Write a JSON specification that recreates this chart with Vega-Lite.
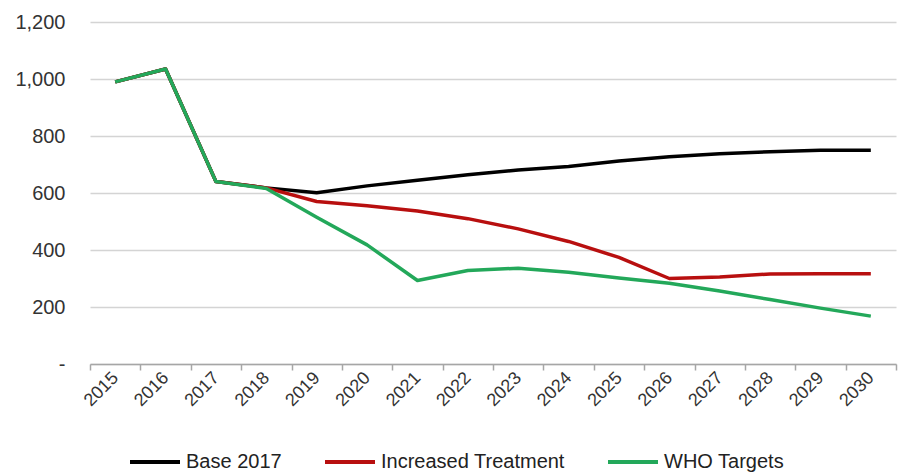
{
  "$schema": "https://vega.github.io/schema/vega-lite/v6.json",
  "width": 806,
  "height": 342,
  "autosize": {"type": "none"},
  "padding": {"left": 90, "top": 22, "right": 10, "bottom": 108},
  "background": "white",
  "config": {
    "view": {"stroke": null},
    "font": "Liberation Sans"
  },
  "data": {
    "values": [
      {"year": "2015", "series": "Base 2017", "value": 990},
      {"year": "2016", "series": "Base 2017", "value": 1035},
      {"year": "2017", "series": "Base 2017", "value": 640},
      {"year": "2018", "series": "Base 2017", "value": 618},
      {"year": "2019", "series": "Base 2017", "value": 601},
      {"year": "2020", "series": "Base 2017", "value": 625},
      {"year": "2021", "series": "Base 2017", "value": 645},
      {"year": "2022", "series": "Base 2017", "value": 664},
      {"year": "2023", "series": "Base 2017", "value": 681},
      {"year": "2024", "series": "Base 2017", "value": 693},
      {"year": "2025", "series": "Base 2017", "value": 712},
      {"year": "2026", "series": "Base 2017", "value": 727},
      {"year": "2027", "series": "Base 2017", "value": 738},
      {"year": "2028", "series": "Base 2017", "value": 745},
      {"year": "2029", "series": "Base 2017", "value": 750},
      {"year": "2030", "series": "Base 2017", "value": 750},
      {"year": "2015", "series": "Increased Treatment", "value": 990},
      {"year": "2016", "series": "Increased Treatment", "value": 1035},
      {"year": "2017", "series": "Increased Treatment", "value": 640},
      {"year": "2018", "series": "Increased Treatment", "value": 618},
      {"year": "2019", "series": "Increased Treatment", "value": 570},
      {"year": "2020", "series": "Increased Treatment", "value": 555},
      {"year": "2021", "series": "Increased Treatment", "value": 537},
      {"year": "2022", "series": "Increased Treatment", "value": 510},
      {"year": "2023", "series": "Increased Treatment", "value": 474},
      {"year": "2024", "series": "Increased Treatment", "value": 430},
      {"year": "2025", "series": "Increased Treatment", "value": 374},
      {"year": "2026", "series": "Increased Treatment", "value": 300},
      {"year": "2027", "series": "Increased Treatment", "value": 305},
      {"year": "2028", "series": "Increased Treatment", "value": 316},
      {"year": "2029", "series": "Increased Treatment", "value": 317},
      {"year": "2030", "series": "Increased Treatment", "value": 317},
      {"year": "2015", "series": "WHO Targets", "value": 990},
      {"year": "2016", "series": "WHO Targets", "value": 1035},
      {"year": "2017", "series": "WHO Targets", "value": 640},
      {"year": "2018", "series": "WHO Targets", "value": 616},
      {"year": "2019", "series": "WHO Targets", "value": 515},
      {"year": "2020", "series": "WHO Targets", "value": 418},
      {"year": "2021", "series": "WHO Targets", "value": 293},
      {"year": "2022", "series": "WHO Targets", "value": 328},
      {"year": "2023", "series": "WHO Targets", "value": 336},
      {"year": "2024", "series": "WHO Targets", "value": 322},
      {"year": "2025", "series": "WHO Targets", "value": 302},
      {"year": "2026", "series": "WHO Targets", "value": 283},
      {"year": "2027", "series": "WHO Targets", "value": 256},
      {"year": "2028", "series": "WHO Targets", "value": 226},
      {"year": "2029", "series": "WHO Targets", "value": 196},
      {"year": "2030", "series": "WHO Targets", "value": 168}
    ]
  },
  "mark": {"type": "line", "strokeWidth": 3.5, "strokeJoin": "round"},
  "encoding": {
    "x": {
      "field": "year",
      "type": "ordinal",
      "scale": {"type": "band", "paddingInner": 0, "paddingOuter": 0},
      "axis": {
        "title": null,
        "labelAngle": -45,
        "labelAlign": "right",
        "labelBaseline": "middle",
        "labelFontSize": 18,
        "labelColor": "#333333",
        "labelPadding": 5,
        "tickBand": "extent",
        "tickColor": "#a6a6a6",
        "tickSize": 6,
        "tickWidth": 1.5,
        "domainColor": "#a6a6a6",
        "domainWidth": 1.5,
        "grid": false
      }
    },
    "y": {
      "field": "value",
      "type": "quantitative",
      "scale": {"domain": [0, 1200], "nice": false},
      "axis": {
        "title": null,
        "values": [0, 200, 400, 600, 800, 1000, 1200],
        "labelExpr": "datum.value == 0 ? '-' : format(datum.value, ',')",
        "labelFontSize": 20,
        "labelColor": "#333333",
        "labelPadding": 25,
        "domain": false,
        "ticks": false,
        "grid": true,
        "gridColor": "#d4d4d4",
        "gridWidth": 1.5
      }
    },
    "color": {
      "field": "series",
      "type": "nominal",
      "scale": {
        "domain": ["Base 2017", "Increased Treatment", "WHO Targets"],
        "range": ["#000000", "#b80f0f", "#23a85a"]
      },
      "legend": {
        "title": null,
        "orient": "none",
        "direction": "horizontal",
        "legendX": 38,
        "legendY": 413,
        "symbolType": "stroke",
        "symbolStrokeWidth": 4,
        "symbolSize": 2500,
        "labelFontSize": 20,
        "labelLimit": 400,
        "labelColor": "#222222",
        "labelOffset": 4,
        "columnPadding": 35
      }
    }
  }
}
